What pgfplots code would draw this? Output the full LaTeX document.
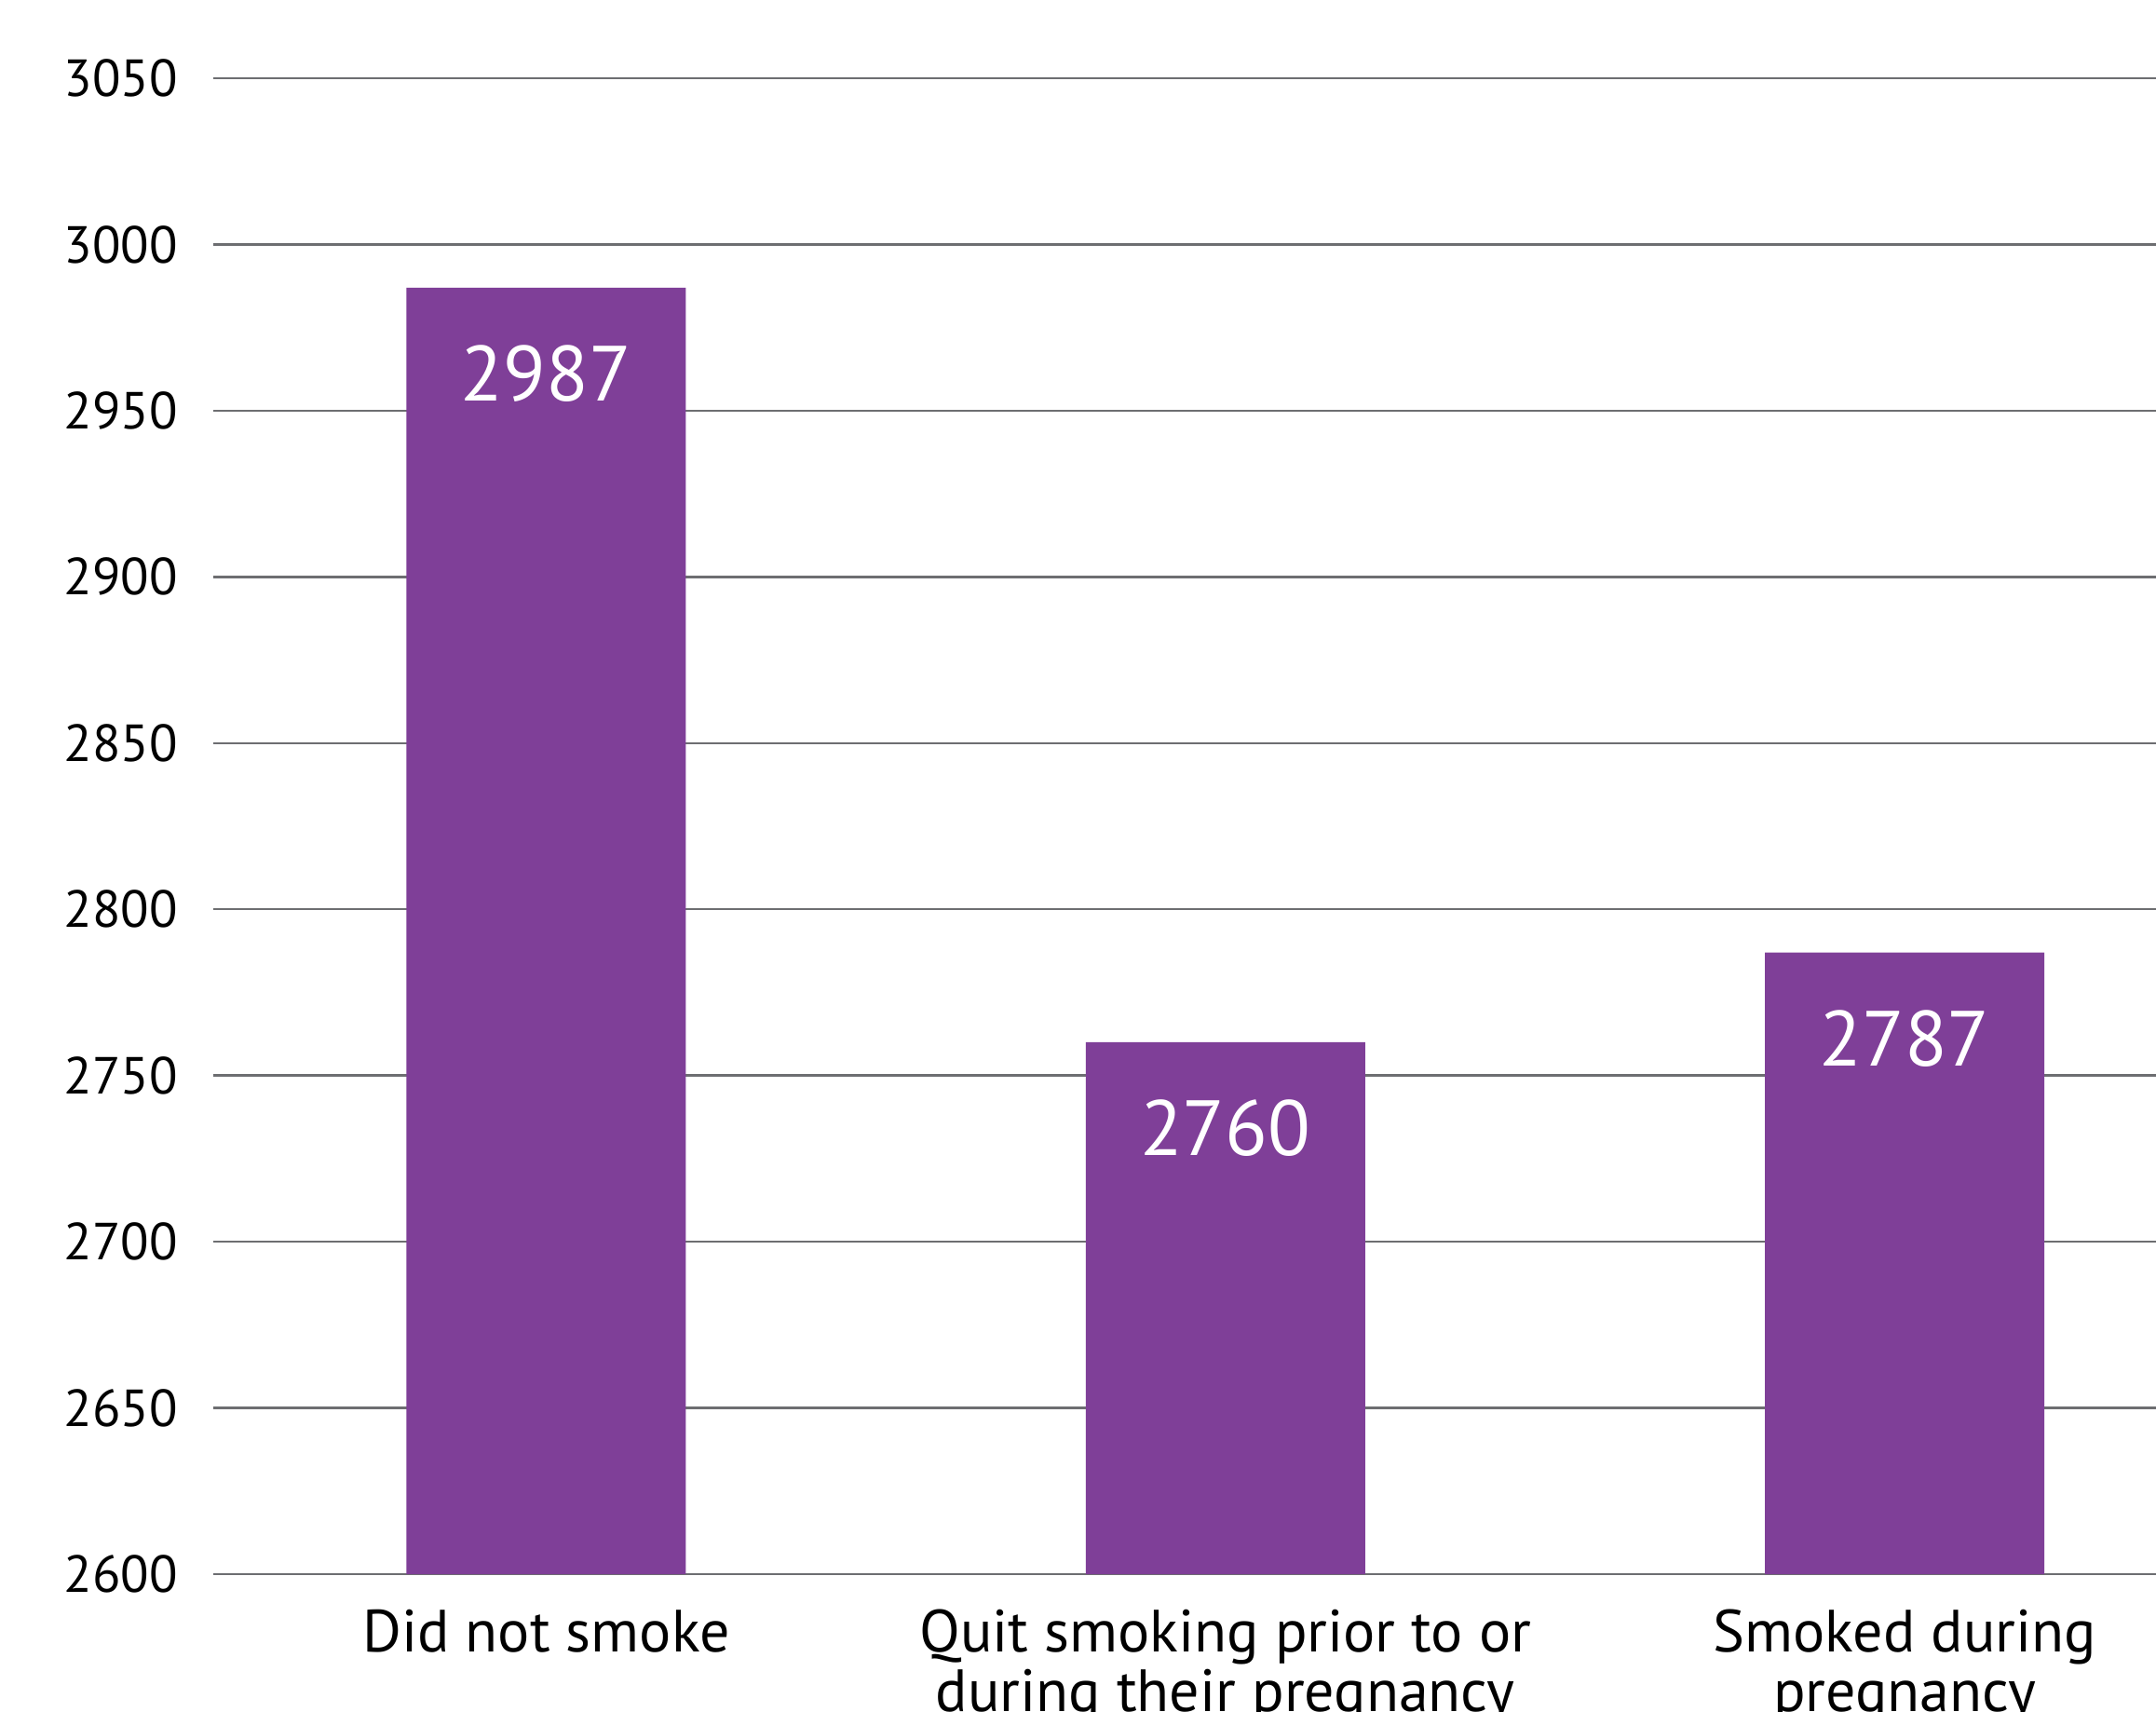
\documentclass[border=0pt]{standalone}
\usepackage{pgfplots}
\pgfplotsset{compat=1.18}
\usepackage{fontspec}
\setmainfont{PT Sans}
\definecolor{barpurple}{HTML}{7F3F98}
\definecolor{gridgray}{HTML}{6D6E71}
\begin{document}
\begin{tikzpicture}
\begin{axis}[
  at={(0,0)}, anchor=south west,
  width=521.5bp, height=401.5bp,
  scale only axis,
  xmin=-0.49, xmax=2.37,
  ymin=2600, ymax=3050,
  ytick={2600,2650,...,3050},
  xtick=data,
  xticklabels={Did not smoke, {Quit smoking prior to or\\during their pregnancy}, {Smoked during\\pregnancy}},
  xticklabel style={font=\fontsize{16bp}{16bp}\selectfont, align=center, text depth=0pt},
  yticklabel style={font=\fontsize{14bp}{16bp}\selectfont},
  /pgf/number format/assume math mode=true,
  /pgf/number format/1000 sep={},
  axis line style={draw=none},
  major tick length=0pt,
  ymajorgrids,
  grid style={gridgray, line width=0.6bp},
  yticklabel shift=6bp,
  xticklabel shift=6bp,
  ybar,
  bar width=75bp,
  nodes near coords,
  every node near coord/.append style={anchor=north, yshift=-12bp, text=white, font=\fontsize{21bp}{24bp}\selectfont},
  clip=false,
]
\addplot[fill=barpurple, draw=none] coordinates {(0,2987) (1,2760) (2,2787)};
\end{axis}
\pgfresetboundingbox
\useasboundingbox (-57.25bp,-37bp) rectangle (521.5bp,422.5bp);
\end{tikzpicture}
\end{document}
